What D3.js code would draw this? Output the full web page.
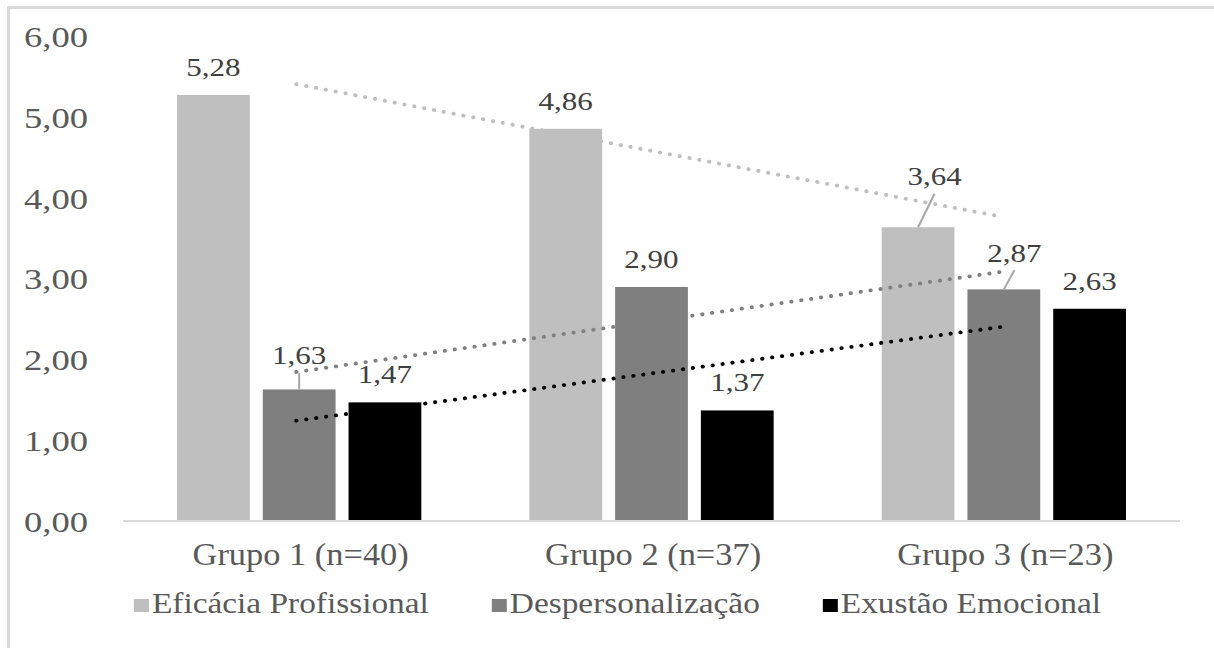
<!DOCTYPE html>
<html>
<head>
<meta charset="utf-8">
<script src="https://cdn.jsdelivr.net/npm/d3@7/dist/d3.min.js"></script>
<style>
  html, body { margin: 0; padding: 0; background: #ffffff; }
  svg { display: block; }
  text { font-family: "Liberation Serif", "Times New Roman", serif; }
</style>
</head>
<body>
<svg id="chart" width="1214" height="648"></svg>
<script>
// ---- data ----
const categories = ["Grupo 1 (n=40)", "Grupo 2 (n=37)", "Grupo 3 (n=23)"];
const seriesNames = ["Eficácia Profissional", "Despersonalização", "Exustão Emocional"];
const eficacia = [5.28, 4.86, 3.64];
const despersonalizacao = [1.63, 2.90, 2.87];
const exaustao = [1.47, 1.37, 2.63];
const yTicks = [0, 1, 2, 3, 4, 5, 6];

const seriesValues = [eficacia, despersonalizacao, exaustao];
const seriesColors = ["#bfbfbf", "#7f7f7f", "#000000"];
const trendColors = ["#bfbfbf", "#808080", "#000000"];

// horizontal stretch applied to the text runs
const SX_NUM = 1.24;
const SX_CAT = 1.11;
const SX_LEG = 1.15;

const svg = d3.select("#chart");
const W = 1214, H = 648;

// chart frame (top and left edges visible)
svg.append("line").attr("x1", 8.5).attr("x2", W).attr("y1", 7.5).attr("y2", 7.5)
  .attr("stroke", "#d9d9d9").attr("stroke-width", 3);
svg.append("line").attr("x1", 8.5).attr("x2", 8.5).attr("y1", 6).attr("y2", H)
  .attr("stroke", "#d9d9d9").attr("stroke-width", 3);

// ---- scales ----
const plotLeft = 123, plotRight = 1180;
const y = d3.scaleLinear().domain([0, 6]).range([521, 36.8]);
const x0 = d3.scaleBand().domain(categories).range([plotLeft, plotRight])
  .paddingInner(0.3066).paddingOuter(0.1533);
const x1 = d3.scaleBand().domain(seriesNames).range([0, x0.bandwidth()])
  .paddingInner(0.1515).paddingOuter(0);

const fmt = v => d3.format(".2f")(v).replace(".", ",");

// ---- y axis labels ----
const yAxis = svg.append("g").attr("transform", "translate(88,0)")
  .call(d3.axisLeft(y).tickValues(yTicks).tickSize(0).tickFormat(fmt));
yAxis.select(".domain").remove();
yAxis.selectAll("text")
  .attr("x", 0).attr("dy", "0.34em")
  .attr("transform", `scale(${SX_NUM},1)`)
  .attr("font-family", "Liberation Serif")
  .attr("font-size", 29.5).attr("fill", "#595959").attr("text-anchor", "end");

// ---- bars ----
const barData = [];
categories.forEach((c, ci) => {
  seriesNames.forEach((s, si) => {
    barData.push({ cat: c, ci, series: s, si, value: seriesValues[si][ci] });
  });
});

svg.append("g").selectAll("rect").data(barData).join("rect")
  .attr("x", d => x0(d.cat) + x1(d.series))
  .attr("width", x1.bandwidth())
  .attr("y", d => y(d.value))
  .attr("height", d => y(0) - y(d.value))
  .attr("fill", d => seriesColors[d.si]);

// ---- category axis ----
svg.append("line").attr("x1", plotLeft).attr("x2", plotRight)
  .attr("y1", 521).attr("y2", 521).attr("stroke", "#d9d9d9").attr("stroke-width", 2);

const xAxis = svg.append("g").attr("transform", "translate(1.5,565)")
  .call(d3.axisBottom(x0).tickSize(0));
xAxis.select(".domain").remove();
xAxis.selectAll("text")
  .attr("y", 0).attr("dy", 0)
  .attr("transform", `scale(${SX_CAT},1)`)
  .attr("font-family", "Liberation Serif")
  .attr("font-size", 31).attr("fill", "#595959");

// ---- linear trend lines ----
const xs = categories.map((c, i) => i + 1);
function linFit(vals) {
  const mx = d3.mean(xs), my = d3.mean(vals);
  const num = d3.sum(xs, (xv, i) => (xv - mx) * (vals[i] - my));
  const den = d3.sum(xs, xv => (xv - mx) * (xv - mx));
  const b = num / den;
  return xv => my + b * (xv - mx);
}
const center = c => x0(c) + x0.bandwidth() / 2;
const trendG = svg.append("g");
seriesValues.forEach((vals, si) => {
  const f = linFit(vals);
  const first = categories[0], last = categories[categories.length - 1];
  trendG.append("line")
    .attr("x1", center(first) - 3).attr("y1", y(f(1)))
    .attr("x2", center(last) - 3).attr("y2", y(f(categories.length)))
    .attr("stroke", trendColors[si]).attr("stroke-width", 3.8)
    .attr("stroke-linecap", "round").attr("stroke-dasharray", "0.4 9.6");
});

// ---- data labels ----
// some labels are nudged away from the bar and tied back with a leader line
const nudges = {
  "1-0": { dx: 0, dy: -6 },
  "0-2": { dx: 16.5, dy: -23 },
  "1-2": { dx: 10.5, dy: -8.7 }
};
const labelG = svg.append("g");
barData.forEach(d => {
  const bx = x0(d.cat) + x1(d.series) + x1.bandwidth() / 2;
  const by = y(d.value);
  const n = nudges[d.si + "-" + d.ci];
  const lx = bx + (n ? n.dx : 0);
  const ly = by - 19 + (n ? n.dy : 0);
  if (n) {
    labelG.append("line")
      .attr("x1", bx).attr("y1", by)
      .attr("x2", lx).attr("y2", ly + 8.5)
      .attr("stroke", "#a6a6a6").attr("stroke-width", 2);
  }
  labelG.append("text")
    .attr("transform", `translate(${lx},${ly}) scale(${SX_NUM},1)`)
    .attr("text-anchor", "middle")
    .attr("font-size", 25).attr("fill", "#404040")
    .text(fmt(d.value));
});

// ---- legend ----
const legendG = svg.append("g");
const items = legendG.selectAll("g").data(seriesNames).join("g");
items.append("rect").attr("width", 15).attr("height", 13).attr("y", -14)
  .attr("fill", (d, i) => seriesColors[i]);
items.append("text")
  .attr("transform", `translate(18,0) scale(${SX_LEG},1)`)
  .attr("font-size", 29).attr("fill", "#595959")
  .text(d => d);
const gap = 63;
let widths = [];
items.each(function () {
  const t = d3.select(this).select("text").node();
  widths.push(18 + t.getComputedTextLength() * SX_LEG);
});
const total = d3.sum(widths) + gap * (widths.length - 1);
let cx = 617.5 - total / 2;
items.each(function (d, i) {
  d3.select(this).attr("transform", `translate(${cx},613)`);
  cx += widths[i] + gap;
});
</script>
</body>
</html>
